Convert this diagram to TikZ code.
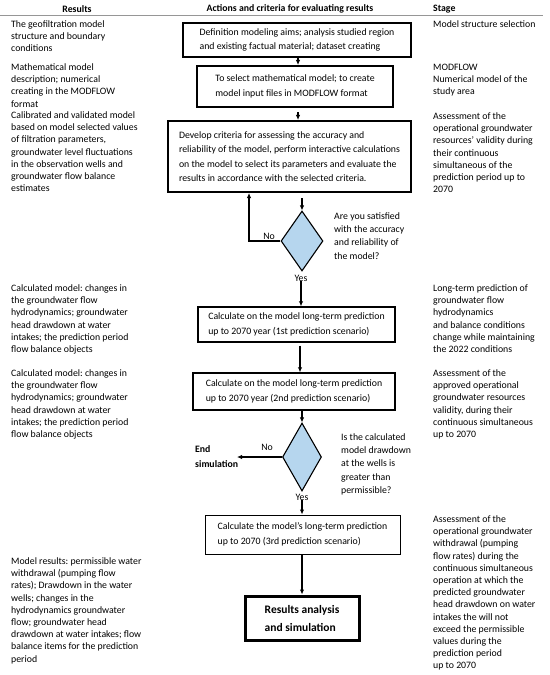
\documentclass[tikz,border=0pt]{standalone}
\usepackage{fontspec}
\setmainfont{Carlito}
\usetikzlibrary{arrows.meta,shapes.geometric}
\definecolor{dfill}{RGB}{182,214,238}
\definecolor{hline}{RGB}{150,150,150}
\newcommand{\colfont}{\fontsize{9.8bp}{12.2bp}\selectfont}
\newcommand{\boxfont}{\fontsize{9.8bp}{14.5bp}\selectfont}
\newcommand{\qfont}{\fontsize{9.8bp}{13.2bp}\selectfont}
\newcommand{\bigbfont}{\fontsize{11.5bp}{18bp}\selectfont\bfseries}
\frenchspacing
\begin{document}
\begin{tikzpicture}[x=1bp,y=-1bp,
  coltext/.style={anchor=north west, inner sep=0pt, align=left, font=\colfont},
  qtext/.style={anchor=north west, inner sep=0pt, align=left, font=\qfont},
  head/.style={inner sep=0pt, font=\colfont\bfseries},
  lbl/.style={inner sep=0pt, font=\colfont},
  boxa/.style={draw, line width=2bp, align=left, font=\boxfont, inner sep=0pt},
  boxb/.style={draw, line width=1.4bp, align=left, font=\boxfont, inner sep=0pt},
  boxc/.style={draw, line width=1bp, align=left, font=\boxfont, inner sep=0pt},
  boxd/.style={draw, line width=3bp, align=left, font=\bigbfont, inner sep=0pt},
  dec/.style={diamond, draw, line width=1.1bp, fill=dfill, inner sep=0pt},
  arr/.style={line width=1.2bp, -{Latex[length=5bp,width=4.5bp]}},
  plain/.style={line width=1.2bp}
]
\fill[white] (0,0) rectangle (550,675);
\useasboundingbox (0,0) rectangle (550,675);

% headers
\node[head] (h1) at (77,9) {Results};
\node[head] (h2) at (290,9) {Actions and criteria for evaluating results};
\node[head, anchor=west] (h3) at (433,9) {Stage};
\coordinate (hl0) at (0,15);
\coordinate (hl1) at (543,15);
\draw[hline, line width=0.8bp] (hl0) -- (hl1);

% left column
\node[coltext] (la) at (11,18.8) {\strut The geofiltration model\\structure and boundary\\conditions};
\node[coltext] (lb) at (11,61.8) {\strut Mathematical model\\description; numerical\\creating in the MODFLOW\\format};
\node[coltext] (lc) at (11,109.8) {\strut Calibrated and validated model\\based on model selected values\\of filtration parameters,\\groundwater level fluctuations\\in the observation wells and\\groundwater flow balance\\estimates};
\node[coltext] (ld) at (11,282.8) {\strut Calculated model: changes in\\the groundwater flow\\hydrodynamics; groundwater\\head drawdown at water\\intakes; the prediction period\\flow balance objects};
\node[coltext] (le) at (11,367.8) {\strut Calculated model: changes in\\the groundwater flow\\hydrodynamics; groundwater\\head drawdown at water\\intakes; the prediction period\\flow balance objects};
\node[coltext] (lg) at (11,555.8) {\strut Model results: permissible water\\withdrawal (pumping flow\\rates); Drawdown in the water\\wells; changes in the\\hydrodynamics groundwater\\flow; groundwater head\\drawdown at water intakes; flow\\balance items for the prediction\\period};

% right column
\node[coltext] (ra) at (433,18.8) {\strut Model structure selection};
\node[coltext] (rb) at (433,61.8) {\strut MODFLOW\\Numerical model of the\\study area};
\node[coltext] (rc) at (433,110.8) {\strut Assessment of the\\operational groundwater\\resources' validity during\\their continuous\\simultaneous of the\\prediction period up to\\2070};
\node[coltext] (rd) at (433,282.8) {\strut Long-term prediction of\\groundwater flow\\hydrodynamics\\and balance conditions\\change while maintaining\\the 2022 conditions};
\node[coltext] (re) at (433,367.8) {\strut Assessment of the\\approved operational\\groundwater resources\\validity, during their\\continuous simultaneous\\up to 2070};
\node[coltext] (rf) at (433,513.8) {\strut Assessment of the\\operational groundwater\\withdrawal (pumping\\flow rates) during the\\continuous simultaneous\\operation at which the\\predicted groundwater\\head drawdown on water\\intakes the will not\\exceed the permissible\\values during the\\prediction period\\up to 2070};

% flow boxes
\node[boxa, minimum width=228bp, minimum height=34bp] (b1) at (297,40)
  {Definition modeling aims; analysis studied region\\and existing factual material; dataset creating};
\node[boxa, minimum width=196bp, minimum height=41bp] (b2) at (295,86.5)
  {To select mathematical model; to create\\model input files in MODFLOW format};
\node[boxa, minimum width=243bp, minimum height=71bp] (b3) at (289.5,156.5)
  {Develop criteria for assessing the accuracy and\\reliability of the model, perform interactive calculations\\on the model to select its parameters and evaluate the\\results in accordance with the selected criteria.};
\node[dec, minimum width=42bp, minimum height=60bp] (d1) at (302,241) {};
\node[lbl] (no1) at (269,236) {No};
\node[lbl] (yes1) at (301,278) {Yes};
\node[qtext] (q1) at (334,210.1) {\strut Are you satisfied\\with the accuracy\\and reliability of\\the model?};
\node[boxb, minimum width=197bp, minimum height=35bp] (b4) at (296.5,324.5)
  {Calculate on the model long-term prediction\\up to 2070 year (1st prediction scenario)};
\node[boxb, minimum width=202bp, minimum height=37bp] (b5) at (294,391.5)
  {Calculate on the model long-term prediction\\up to 2070 year (2nd prediction scenario)};
\node[dec, minimum width=39bp, minimum height=68bp] (d2) at (302,457) {};
\node[lbl] (no2) at (267,447) {No};
\node[lbl] (yes2) at (302,497) {Yes};
\node[inner sep=0pt, anchor=north west, align=left, font=\fontsize{9.8bp}{15bp}\selectfont\bfseries] (end) at (195,441.5) {\strut End\\simulation};
\coordinate (endc) at (237,457);
\node[qtext] (q2) at (341,431.1) {\strut Is the calculated\\model drawdown\\at the wells is\\greater than\\permissible?};
\node[boxc, minimum width=195bp, minimum height=39bp] (b6) at (302.5,534.5)
  {Calculate the model's long-term prediction\\up to 2070 (3rd prediction scenario)};
\node[boxd, minimum width=114bp, minimum height=44bp] (b7) at (302,618)
  {Results analysis\\and simulation};

% connectors
\coordinate (loopx) at (249,0);
\draw[arr] (b1.south -| 298,0) -- (b2.north -| 298,0);
\draw[arr, shorten <=4bp] (b2.south -| 298,0) -- (b3.north -| 298,0);
\draw[arr, shorten <=5bp] (d1.north |- b3.south) -- (d1.north);
\draw[arr] (d1.west) -| (loopx |- b3.south);
\draw[arr] (yes1.south) -- (yes1.south |- b4.north);
\draw[arr, shorten <=3bp] (b4.south -| 300,0) -- (b5.north -| 300,0);
\draw[arr] (d2.north |- b5.south) -- (d2.north);
\draw[arr] (d2.west) -- (endc);
\draw[arr] (yes2.south) -- (yes2.south |- b6.north);
\draw[arr] (b7.north |- b6.south) -- (b7.north);
\end{tikzpicture}
\end{document}
